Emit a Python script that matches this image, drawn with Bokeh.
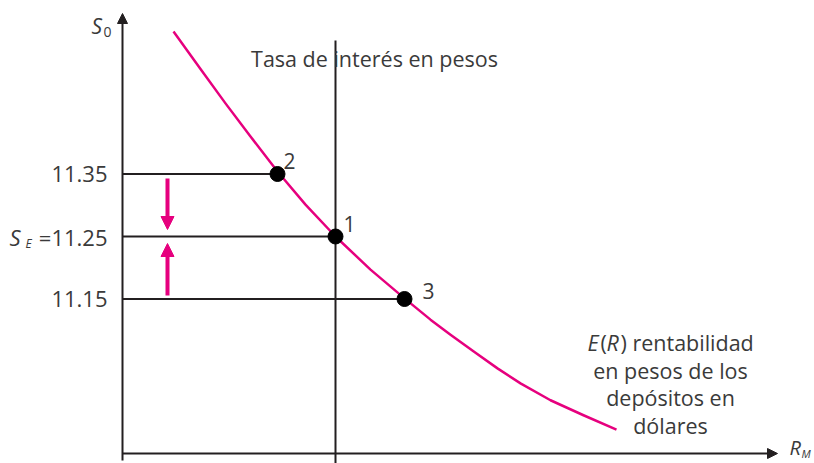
from bokeh.plotting import figure
from bokeh.models import Range1d, Arrow, NormalHead
from bokeh.core.properties import value
from bokeh.embed import file_html
from bokeh.resources import INLINE

# ---- data ----
s_levels = [11.35, 11.25, 11.15]          # exchange-rate levels marked on S0 axis
s_tick_text = ["11.35", "=11.25", "11.15"]
r_peso = 2.13                               # peso interest rate (vertical line)
pt_labels = ["1", "2", "3"]
pt_r = [2.13, 1.55, 2.82]
pt_s = [11.25, 11.35, 11.15]
curve_r = [0.51, 0.78, 1.03, 1.28, 1.55, 1.83, 2.13, 2.48, 2.82, 3.08, 3.28,
           3.53, 3.75, 3.98, 4.28, 4.61, 4.94]
curve_s = [11.578, 11.518, 11.463, 11.410, 11.354, 11.301, 11.250, 11.197, 11.151,
           11.117, 11.093, 11.064, 11.039, 11.015, 10.988, 10.964, 10.941]
curve_label = ["en pesos de los", "depósitos en", "dólares"]

# ---- pixel helpers (layout only) ----
X0, Y0 = 122, 236
def dx(px):
    return (px - X0) / 100.0
def dy(py):
    return 11.25 - (py - Y0) / 625.0

W, H = 814, 463
p = figure(width=W, height=H, output_backend="svg", toolbar_location=None,
           x_range=Range1d(dx(0), dx(W)), y_range=Range1d(dy(H), dy(0)),
           x_axis_location=None, y_axis_location=None, min_border=0,
           outline_line_color=None)
p.grid.visible = False
p.background_fill_color = "white"

INK = "#231f20"
TXT = "#3a3a3a"
PINK = "#e6007e"
FONT = value("Open Sans")
FS = "21.5px"

# axes
p.add_layout(Arrow(end=NormalHead(size=10, fill_color=INK, line_color=INK),
                   x_start=0, y_start=dy(460), x_end=0, y_end=dy(13),
                   line_color=INK, line_width=2))
p.add_layout(Arrow(end=NormalHead(size=10, fill_color=INK, line_color=INK),
                   x_start=0, y_start=dy(453), x_end=dx(777), y_end=dy(453),
                   line_color=INK, line_width=2))

# vertical peso interest rate line
p.segment(x0=[r_peso], y0=[dy(40)], x1=[r_peso], y1=[dy(466)], line_color=INK, line_width=2)

# horizontal guide lines to the points
hx1 = [pt_r[pt_s.index(s)] for s in s_levels]
p.segment(x0=[0] * 3, y0=s_levels, x1=hx1, y1=s_levels, line_color=INK, line_width=2)

# curve
p.line(curve_r, curve_s, line_color=PINK, line_width=2.5, line_join="round")

# points
p.scatter(pt_r, pt_s, size=15, fill_color="black", line_color="black")
lab_x = [pt_r[0] + dx(349) - dx(335), pt_r[1] + dx(289) - dx(277), pt_r[2] + dx(428) - dx(404)]
lab_y = [pt_s[0] + dy(223) - dy(236), pt_s[1] + dy(160) - dy(173), pt_s[2] + dy(290) - dy(298)]
p.text(lab_x, lab_y, text=pt_labels, text_font=FONT, text_font_size="21px",
       text_color=TXT, text_align="center", text_baseline="middle")

# pink arrows
p.add_layout(Arrow(end=NormalHead(size=13, fill_color=PINK, line_color=PINK),
                   x_start=dx(167), y_start=dy(178), x_end=dx(167), y_end=dy(229),
                   line_color=PINK, line_width=4))
p.add_layout(Arrow(end=NormalHead(size=13, fill_color=PINK, line_color=PINK),
                   x_start=dx(167), y_start=dy(295), x_end=dx(167), y_end=dy(243),
                   line_color=PINK, line_width=4))

# y tick labels
p.text([dx(107)] * 3, s_levels, text=s_tick_text, text_font=FONT, text_font_size="22px",
       text_color=TXT, text_align="right", text_baseline="middle")
p.text([dx(9)], [11.25], text=["S"], text_font=FONT, text_font_style="italic",
       text_font_size="22px", text_color=TXT, text_align="left", text_baseline="middle")
p.text([dx(25)], [dy(243)], text=["E"], text_font=FONT, text_font_style="italic",
       text_font_size="12px", text_color=TXT, text_align="left", text_baseline="middle")

# axis titles
p.text([dx(91)], [dy(25)], text=["S"], text_font=FONT, text_font_style="italic",
       text_font_size="21px", text_color=TXT, text_align="left", text_baseline="middle")
p.text([dx(103)], [dy(31)], text=["0"], text_font=FONT,
       text_font_size="14px", text_color=TXT, text_align="left", text_baseline="middle")
p.text([dx(789)], [dy(447)], text=["R"], text_font=FONT, text_font_style="italic",
       text_font_size="20px", text_color=TXT, text_align="left", text_baseline="middle")
p.text([dx(801)], [dy(453)], text=["M"], text_font=FONT, text_font_style="italic",
       text_font_size="11px", text_color=TXT, text_align="left", text_baseline="middle")

p.text([dx(374)], [dy(58)], text=["Tasa de interés en pesos"], text_font=FONT,
       text_font_size=FS, text_color=TXT, text_align="center", text_baseline="alphabetic")

# curve label
p.text([dx(587)], [dy(342)], text=["E"], text_font=FONT, text_font_style="italic",
       text_font_size=FS, text_color=TXT, text_align="left", text_baseline="alphabetic")
p.text([dx(600)], [dy(342)], text=["("], text_font=FONT,
       text_font_size=FS, text_color=TXT, text_align="left", text_baseline="alphabetic")
p.text([dx(606)], [dy(342)], text=["R"], text_font=FONT, text_font_style="italic",
       text_font_size=FS, text_color=TXT, text_align="left", text_baseline="alphabetic")
p.text([dx(620)], [dy(342)], text=[") rentabilidad"], text_font=FONT,
       text_font_size=FS, text_color=TXT, text_align="left", text_baseline="alphabetic")
p.text([dx(670)] * 3, [dy(369.5), dy(397), dy(424.5)], text=curve_label, text_font=FONT,
       text_font_size=FS, text_color=TXT, text_align="center", text_baseline="alphabetic")

open("out.html", "w").write(file_html(p, INLINE))
